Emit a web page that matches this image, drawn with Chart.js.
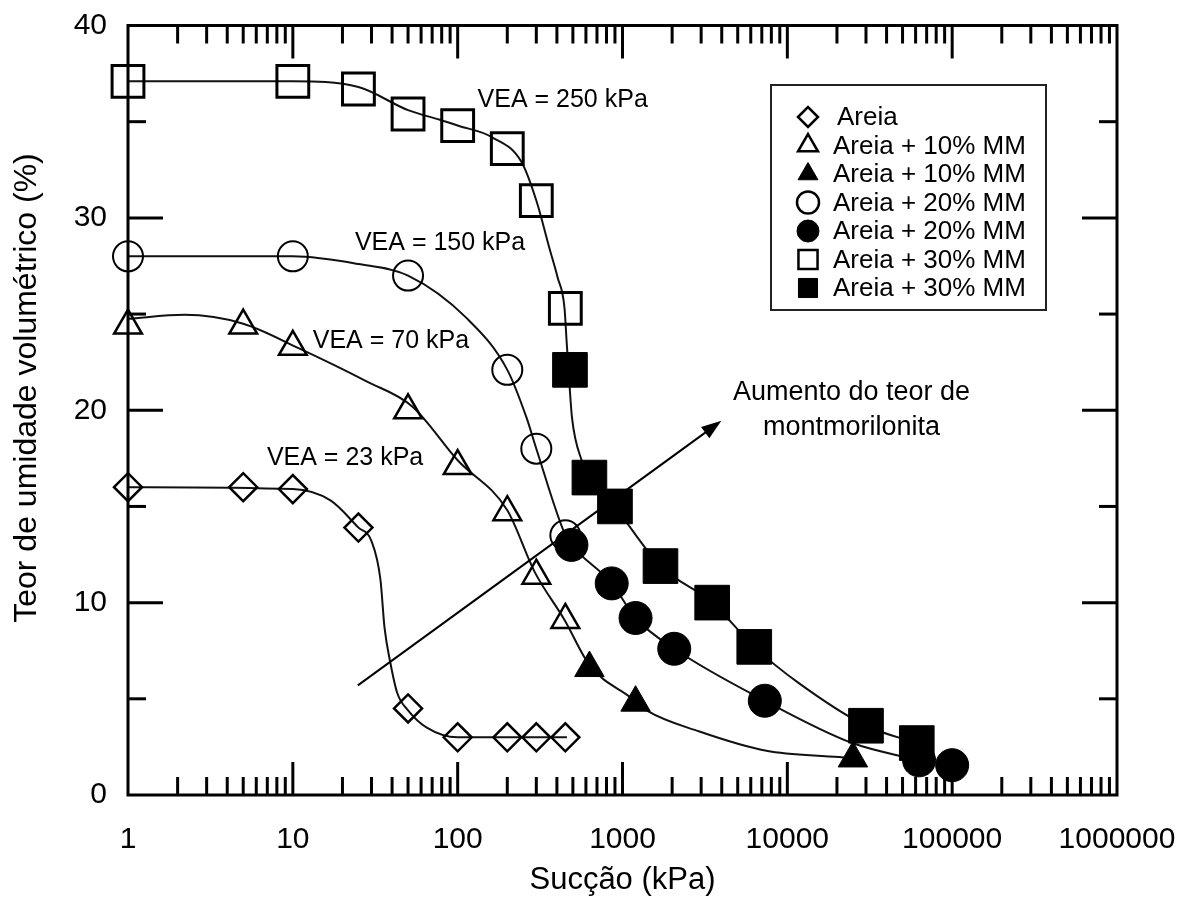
<!DOCTYPE html>
<html>
<head>
<meta charset="utf-8">
<script src="https://cdn.jsdelivr.net/npm/chart.js@4/dist/chart.umd.min.js"></script>
<style>
html, body { margin: 0; padding: 0; background: #fff; }
</style>
</head>
<body>
<canvas id="c" width="1191" height="903"></canvas>
<script>
// Measured points (suction kPa, volumetric water content %)
const areiaX = [1, 5, 10, 25, 50, 100, 200, 300, 450];
const areiaY = [16.0, 16.0, 15.9, 13.9, 4.5, 3.0, 3.0, 3.0, 3.0];
const mm10OpenX = [1, 5, 10, 50, 100, 200, 300, 450];
const mm10OpenY = [24.4, 24.4, 23.3, 20.0, 17.1, 14.7, 11.4, 9.1];
const mm10FillX = [630, 1200, 25000];
const mm10FillY = [6.6, 4.8, 1.9];
const mm20OpenX = [1, 10, 50, 200, 300, 450];
const mm20OpenY = [28.0, 28.0, 27.0, 22.1, 18.0, 13.5];
const mm20FillX = [490, 860, 1200, 2060, 7300, 63000, 100000];
const mm20FillY = [13.0, 11.0, 9.2, 7.6, 4.9, 1.8, 1.55];
const mm30OpenX = [1, 10, 25, 50, 100, 200, 300, 450];
const mm30OpenY = [37.1, 37.1, 36.7, 35.4, 34.8, 33.6, 30.9, 25.3];
const mm30FillX = [480, 630, 900, 1700, 3500, 6300, 30000, 61000];
const mm30FillY = [22.1, 16.5, 15.0, 11.9, 10.0, 7.7, 3.6, 2.7];

// Fitted curves
const curveAreiaX = [1, 10, 17, 25, 30, 34, 36, 39, 43, 50, 65, 100, 460];
const curveAreiaY = [16.0, 15.9, 15.3, 13.9, 13.2, 11.2, 8.7, 6.9, 5.3, 4.4, 3.5, 3.0, 3.0];
const curve10X = [1, 2.2, 5, 11, 28, 53, 100, 200, 293, 445, 631, 1150, 1400, 2930, 7460, 20650, 25000];
const curve10Y = [24.75, 24.96, 24.5, 23.2, 21.5, 20.2, 17.4, 14.8, 11.6, 9.1, 6.75, 5.0, 4.4, 3.3, 2.3, 1.97, 1.9];
const curve20X = [1, 10, 25, 50, 113, 200, 262, 300, 450, 490, 860, 1200, 2060, 7300, 24800, 63000];
const curve20Y = [28.0, 28.0, 27.6, 27.0, 24.8, 22.1, 19.6, 18.0, 13.5, 13.0, 11.0, 9.2, 7.6, 4.9, 2.7, 1.8];
const curve30X = [1, 10, 25, 50, 78, 100, 161, 244, 300, 361, 404, 445, 458, 478, 494, 565, 631, 894, 1700, 3500, 6300, 11800, 30000, 61000];
const curve30Y = [37.1, 37.1, 36.8, 35.6, 35.1, 34.8, 34.2, 32.9, 30.9, 28.4, 26.9, 25.3, 23.6, 21.2, 19.6, 17.4, 16.5, 15.0, 11.9, 10.0, 7.7, 5.8, 3.6, 2.7];

// Axes
const xTickValues = [1, 10, 100, 1000, 10000, 100000, 1000000];
const yTickValues = [0, 10, 20, 30, 40];

// Annotations [text, x value, y value, align]
const notes = [
  ['VEA = 250 kPa', 132, 36.1, 'left'],
  ['VEA = 150 kPa', 23.8, 28.7, 'left'],
  ['VEA = 70 kPa', 13.2, 23.6, 'left'],
  ['VEA = 23 kPa', 6.96, 17.5, 'left'],
  ['Aumento do teor de', 24500, 20.9, 'center'],
  ['montmorilonita', 24500, 19.1, 'center']
];
const arrowFrom = [24.8, 5.7];
const arrowTo = [3980, 19.45];

const FONT = '"Liberation Sans", Arial, sans-serif';
const INK = '#000';

function pts(xs, ys) {
  return xs.map((x, i) => ({x: x, y: ys[i]}));
}

function marks(label, xs, ys, style, radius, filled, bw) {
  return {
    label: label,
    data: pts(xs, ys),
    showLine: false,
    pointStyle: style,
    pointRadius: radius,
    pointHoverRadius: radius,
    pointBorderWidth: bw,
    pointBorderColor: INK,
    pointBackgroundColor: filled ? INK : 'rgba(0,0,0,0)',
    borderColor: INK,
    backgroundColor: filled ? INK : 'rgba(0,0,0,0)',
    clip: false,
    order: 0
  };
}

function curve(xs, ys) {
  return {
    label: '',
    data: pts(xs, ys),
    showLine: true,
    pointRadius: 0,
    borderColor: '#111',
    borderWidth: 2,
    cubicInterpolationMode: 'monotone',
    fill: false,
    order: 10
  };
}

const datasets = [
  marks('Areia', areiaX, areiaY, 'rectRot', 14, false, 2.5),
  marks('Areia + 10% MM', mm10OpenX, mm10OpenY, 'triangle', 16, false, 2.5),
  marks('Areia + 10% MM', mm10FillX, mm10FillY, 'triangle', 17, true, 1),
  marks('Areia + 20% MM', mm20OpenX, mm20OpenY, 'circle', 15, false, 2),
  marks('Areia + 20% MM', mm20FillX, mm20FillY, 'circle', 16.5, true, 1),
  marks('Areia + 30% MM', mm30OpenX, mm30OpenY, 'rect', 22.5, false, 3),
  marks('Areia + 30% MM', mm30FillX, mm30FillY, 'rect', 24.5, true, 1),
  curve(curveAreiaX, curveAreiaY),
  curve(curve10X, curve10Y),
  curve(curve20X, curve20Y),
  curve(curve30X, curve30Y)
];

// legend marker sizes
const legendRadius = [10, 11.5, 11.5, 11, 11, 13.5, 13.5];

function seg(ctx, x1, y1, x2, y2) {
  ctx.beginPath();
  ctx.moveTo(x1, y1);
  ctx.lineTo(x2, y2);
  ctx.stroke();
}

function mark(ctx, style, r, filled, bw, x, y) {
  ctx.save();
  ctx.fillStyle = filled ? INK : '#fff';
  ctx.strokeStyle = INK;
  ctx.lineWidth = bw;
  Chart.helpers.drawPoint(ctx, {pointStyle: style, rotation: 0, radius: r, borderWidth: bw}, x, y);
  ctx.restore();
}

const decor = {
  id: 'decor',
  afterDatasetsDraw(chart) {
    const {ctx, chartArea: a, scales: {x, y}} = chart;
    ctx.save();
    ctx.strokeStyle = INK;
    ctx.lineWidth = 3;
    ctx.lineCap = 'butt';
    ctx.strokeRect(a.left, a.top, a.right - a.left, a.bottom - a.top);

    // inward ticks, left and right
    for (let v = 5; v < 40; v += 5) {
      const py = y.getPixelForValue(v);
      const len = v % 10 === 0 ? 35 : 18;
      seg(ctx, a.left, py, a.left + len, py);
      seg(ctx, a.right, py, a.right - len, py);
    }
    // inward log ticks, bottom and top
    for (let d = 0; d < 6; d++) {
      for (let k = 1; k <= 9; k++) {
        const v = k * Math.pow(10, d);
        if (v === 1) continue;
        const px = x.getPixelForValue(v);
        const len = k === 1 ? 33 : 18;
        seg(ctx, px, a.bottom, px, a.bottom - len);
        seg(ctx, px, a.top, px, a.top + len);
      }
    }

    // arrow
    const x1 = x.getPixelForValue(arrowFrom[0]), y1 = y.getPixelForValue(arrowFrom[1]);
    const x2 = x.getPixelForValue(arrowTo[0]), y2 = y.getPixelForValue(arrowTo[1]);
    const ang = Math.atan2(y2 - y1, x2 - x1);
    ctx.lineWidth = 2;
    seg(ctx, x1, y1, x2 - 14 * Math.cos(ang), y2 - 14 * Math.sin(ang));
    ctx.fillStyle = INK;
    ctx.beginPath();
    ctx.moveTo(x2, y2);
    ctx.lineTo(x2 - 20 * Math.cos(ang) + 7 * Math.sin(ang), y2 - 20 * Math.sin(ang) - 7 * Math.cos(ang));
    ctx.lineTo(x2 - 20 * Math.cos(ang) - 7 * Math.sin(ang), y2 - 20 * Math.sin(ang) + 7 * Math.cos(ang));
    ctx.closePath();
    ctx.fill();

    // text notes
    ctx.textBaseline = 'middle';
    for (const n of notes) {
      ctx.font = (n[3] === 'center' ? '27px ' : '25px ') + FONT;
      ctx.textAlign = n[3];
      ctx.fillText(n[0], x.getPixelForValue(n[1]), y.getPixelForValue(n[2]));
    }

    // legend box
    ctx.fillStyle = '#fff';
    ctx.fillRect(771, 85, 275, 225);
    ctx.lineWidth = 2;
    ctx.strokeStyle = '#222';
    ctx.strokeRect(771, 85, 275, 225);
    ctx.font = '26px ' + FONT;
    ctx.textAlign = 'left';
    ctx.fillStyle = INK;
    const items = chart.data.datasets.filter(ds => ds.label);
    items.forEach((ds, i) => {
      const ly = 117 + i * 28.5;
      const filled = ds.pointBackgroundColor === INK;
      mark(ctx, ds.pointStyle, legendRadius[i], filled, filled ? 1 : 2.5, 808, ly);
      ctx.fillStyle = INK;
      ctx.fillText(ds.label, i === 0 ? 837 : 833, ly + 1);
    });

    // y axis title
    ctx.save();
    ctx.translate(27, 388);
    ctx.rotate(-Math.PI / 2);
    ctx.font = '32px ' + FONT;
    ctx.textAlign = 'center';
    ctx.textBaseline = 'middle';
    ctx.fillText('Teor de umidade volumétrico (%)', 0, 0);
    ctx.restore();

    ctx.restore();
  }
};

new Chart(document.getElementById('c'), {
  type: 'scatter',
  data: {datasets: datasets},
  options: {
    responsive: false,
    devicePixelRatio: 1,
    animation: false,
    layout: {padding: {top: 24, right: 74, left: 0, bottom: 0}},
    plugins: {legend: {display: false}, tooltip: {enabled: false}},
    scales: {
      x: {
        type: 'logarithmic',
        min: 1,
        max: 1000000,
        afterFit: s => { s.height = 108; s.paddingLeft = 0; s.paddingRight = 0; },
        afterBuildTicks: s => { s.ticks = xTickValues.map(v => ({value: v})); },
        grid: {display: false, drawTicks: false},
        border: {display: false},
        ticks: {
          autoSkip: false,
          maxRotation: 0,
          minRotation: 0,
          padding: 27,
          color: INK,
          font: {family: FONT, size: 30},
          callback: v => String(v)
        },
        title: {
          display: true,
          text: 'Sucção (kPa)',
          color: INK,
          font: {family: FONT, size: 31},
          padding: {top: 0, bottom: 4}
        }
      },
      y: {
        min: 0,
        max: 40,
        afterFit: s => { s.width = 128; s.paddingTop = 0; s.paddingBottom = 0; },
        afterBuildTicks: s => { s.ticks = yTickValues.map(v => ({value: v})); },
        grid: {display: false, drawTicks: false},
        border: {display: false},
        ticks: {
          padding: 21,
          color: INK,
          font: {family: FONT, size: 30}
        }
      }
    }
  },
  plugins: [decor]
});
</script>
</body>
</html>
